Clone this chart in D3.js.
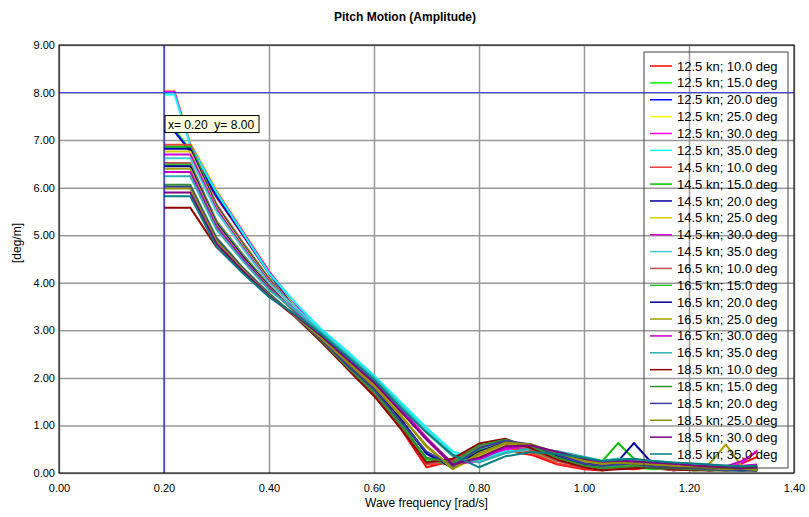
<!DOCTYPE html>
<html>
<head>
<meta charset="utf-8">
<script src="https://cdn.jsdelivr.net/npm/d3@7"></script>
<style>
	body { margin: 0; background: #fff; }
	text { font-family: Arial, "Liberation Sans", sans-serif; }
	.grid line { stroke: #999; stroke-width: 1.5; }
	.grid .domain { display: none; }
</style>
</head>
<body>
<div class="pitch-chart"></div>
<script>
// wave frequency [rad/s] shared by all series
const freq = [0.20, 0.22, 0.25, 0.30, 0.35, 0.40, 0.45, 0.50, 0.55, 0.60, 0.65, 0.70, 0.75, 0.80,
	0.85, 0.90, 0.95, 1.00, 1.035, 1.065, 1.095, 1.13, 1.17, 1.21, 1.24, 1.27, 1.30, 1.33];

const seriesNames = [
	"12.5 kn; 10.0 deg", "12.5 kn; 15.0 deg", "12.5 kn; 20.0 deg", "12.5 kn; 25.0 deg", "12.5 kn; 30.0 deg", "12.5 kn; 35.0 deg",
	"14.5 kn; 10.0 deg", "14.5 kn; 15.0 deg", "14.5 kn; 20.0 deg", "14.5 kn; 25.0 deg", "14.5 kn; 30.0 deg", "14.5 kn; 35.0 deg",
	"16.5 kn; 10.0 deg", "16.5 kn; 15.0 deg", "16.5 kn; 20.0 deg", "16.5 kn; 25.0 deg", "16.5 kn; 30.0 deg", "16.5 kn; 35.0 deg",
	"18.5 kn; 10.0 deg", "18.5 kn; 15.0 deg", "18.5 kn; 20.0 deg", "18.5 kn; 25.0 deg", "18.5 kn; 30.0 deg", "18.5 kn; 35.0 deg"
];

const seriesColors = [
	"#ff0000", "#00ff00", "#0000ff", "#ffff00", "#ff00ff", "#00ffff",
	"#f03c3c", "#00c000", "#0000a0", "#d0d000", "#d000d0", "#40d0d0",
	"#c05050", "#30c030", "#000090", "#a0a000", "#c000c0", "#30b0b0",
	"#900000", "#308f30", "#3c3ca0", "#909000", "#800080", "#008080"
];

// pitch amplitude [deg/m]
const amp_125_10 = [7.20, 7.20, 6.75, 5.80, 5.00, 4.20, 3.50, 2.80, 2.20, 1.65, 0.95, 0.12, 0.25, 0.42, 0.48, 0.38, 0.18, 0.08, 0.05, 0.10, 0.08, 0.12, 0.06, 0.08, 0.05, 0.10, 0.20, 0.34];
const amp_125_15 = [7.22, 7.22, 6.80, 5.85, 5.05, 4.22, 3.52, 2.83, 2.25, 1.72, 1.05, 0.25, 0.18, 0.45, 0.55, 0.45, 0.25, 0.12, 0.06, 0.15, 0.12, 0.08, 0.10, 0.05, 0.08, 0.06, 0.08, 0.10];
const amp_125_20 = [7.18, 7.18, 6.78, 5.82, 5.02, 4.20, 3.50, 2.85, 2.30, 1.80, 1.15, 0.40, 0.12, 0.40, 0.58, 0.50, 0.30, 0.15, 0.10, 0.18, 0.20, 0.12, 0.06, 0.10, 0.12, 0.08, 0.05, 0.08];
const amp_125_25 = [8.04, 8.04, 6.95, 5.95, 5.10, 4.25, 3.52, 2.88, 2.38, 1.88, 1.25, 0.55, 0.10, 0.32, 0.55, 0.52, 0.35, 0.20, 0.14, 0.18, 0.22, 0.16, 0.10, 0.12, 0.08, 0.10, 0.06, 0.05];
const amp_125_30 = [8.02, 8.02, 6.92, 5.92, 5.08, 4.24, 3.55, 2.93, 2.45, 1.97, 1.38, 0.75, 0.18, 0.25, 0.50, 0.52, 0.38, 0.25, 0.18, 0.22, 0.25, 0.18, 0.15, 0.10, 0.12, 0.10, 0.20, 0.48];
const amp_125_35 = [7.96, 7.96, 6.90, 5.90, 5.05, 4.20, 3.58, 3.02, 2.55, 2.05, 1.50, 0.95, 0.45, 0.30, 0.45, 0.52, 0.42, 0.30, 0.22, 0.28, 0.30, 0.22, 0.18, 0.15, 0.12, 0.15, 0.12, 0.10];

const amp_145_10 = [6.90, 6.90, 6.90, 5.65, 4.85, 4.10, 3.45, 2.80, 2.22, 1.68, 1.00, 0.18, 0.22, 0.45, 0.55, 0.42, 0.20, 0.10, 0.08, 0.12, 0.10, 0.14, 0.08, 0.06, 0.10, 0.08, 0.12, 0.15];
const amp_145_15 = [6.86, 6.86, 6.86, 5.62, 4.82, 4.08, 3.44, 2.82, 2.26, 1.74, 1.08, 0.30, 0.15, 0.48, 0.60, 0.50, 0.28, 0.15, 0.25, 0.63, 0.30, 0.15, 0.10, 0.12, 0.08, 0.06, 0.05, 0.08];
const amp_145_20 = [6.82, 6.82, 6.82, 5.60, 4.80, 4.06, 3.44, 2.84, 2.30, 1.80, 1.15, 0.42, 0.10, 0.42, 0.62, 0.55, 0.32, 0.18, 0.15, 0.25, 0.63, 0.20, 0.08, 0.10, 0.12, 0.08, 0.06, 0.05];
const amp_145_25 = [6.76, 6.76, 6.76, 5.58, 4.78, 4.05, 3.45, 2.87, 2.36, 1.86, 1.24, 0.55, 0.12, 0.35, 0.58, 0.55, 0.36, 0.22, 0.15, 0.20, 0.18, 0.22, 0.15, 0.10, 0.08, 0.10, 0.08, 0.06];
const amp_145_30 = [6.70, 6.70, 6.70, 5.55, 4.75, 4.03, 3.46, 2.92, 2.42, 1.94, 1.35, 0.72, 0.20, 0.28, 0.52, 0.55, 0.40, 0.26, 0.20, 0.24, 0.28, 0.20, 0.16, 0.14, 0.10, 0.12, 0.15, 0.18];
const amp_145_35 = [6.62, 6.62, 6.62, 5.50, 4.72, 4.00, 3.48, 2.98, 2.50, 2.02, 1.45, 0.90, 0.40, 0.25, 0.42, 0.50, 0.44, 0.32, 0.25, 0.30, 0.28, 0.25, 0.20, 0.16, 0.14, 0.12, 0.10, 0.12];

const amp_165_10 = [6.52, 6.52, 6.52, 5.30, 4.60, 3.95, 3.38, 2.78, 2.20, 1.66, 0.98, 0.20, 0.28, 0.55, 0.65, 0.48, 0.25, 0.12, 0.08, 0.10, 0.12, 0.10, 0.06, 0.08, 0.06, 0.05, 0.08, 0.10];
const amp_165_15 = [6.48, 6.48, 6.48, 5.28, 4.58, 3.93, 3.37, 2.80, 2.24, 1.72, 1.05, 0.30, 0.20, 0.52, 0.66, 0.55, 0.30, 0.15, 0.12, 0.15, 0.12, 0.10, 0.08, 0.10, 0.06, 0.08, 0.05, 0.06];
const amp_165_20 = [6.45, 6.45, 6.45, 5.25, 4.55, 3.92, 3.38, 2.83, 2.28, 1.78, 1.12, 0.42, 0.12, 0.45, 0.65, 0.58, 0.36, 0.20, 0.16, 0.20, 0.22, 0.15, 0.10, 0.08, 0.10, 0.06, 0.08, 0.05];
const amp_165_25 = [6.40, 6.40, 6.40, 5.22, 4.52, 3.90, 3.38, 2.86, 2.34, 1.84, 1.22, 0.55, 0.08, 0.38, 0.62, 0.58, 0.40, 0.25, 0.18, 0.20, 0.22, 0.18, 0.14, 0.12, 0.20, 0.60, 0.15, 0.10];
const amp_165_30 = [6.33, 6.33, 6.33, 5.18, 4.50, 3.88, 3.40, 2.90, 2.40, 1.92, 1.32, 0.70, 0.15, 0.30, 0.55, 0.58, 0.42, 0.28, 0.22, 0.25, 0.26, 0.22, 0.18, 0.15, 0.12, 0.14, 0.25, 0.45];
const amp_165_35 = [6.24, 6.24, 6.24, 5.12, 4.46, 3.85, 3.42, 2.95, 2.47, 2.00, 1.42, 0.85, 0.35, 0.22, 0.42, 0.52, 0.46, 0.34, 0.26, 0.30, 0.28, 0.26, 0.22, 0.18, 0.15, 0.14, 0.12, 0.14];

const amp_185_10 = [5.58, 5.58, 5.58, 4.75, 4.22, 3.72, 3.28, 2.75, 2.18, 1.62, 0.95, 0.22, 0.30, 0.62, 0.72, 0.52, 0.28, 0.12, 0.06, 0.08, 0.10, 0.12, 0.08, 0.06, 0.05, 0.08, 0.10, 0.12];
const amp_185_15 = [6.06, 6.06, 6.06, 4.95, 4.32, 3.78, 3.30, 2.78, 2.22, 1.70, 1.02, 0.32, 0.22, 0.58, 0.70, 0.56, 0.32, 0.16, 0.10, 0.12, 0.15, 0.12, 0.10, 0.08, 0.06, 0.05, 0.06, 0.08];
const amp_185_20 = [6.02, 6.02, 6.02, 4.92, 4.30, 3.76, 3.30, 2.80, 2.26, 1.76, 1.10, 0.45, 0.15, 0.52, 0.68, 0.60, 0.38, 0.20, 0.15, 0.18, 0.20, 0.14, 0.12, 0.10, 0.08, 0.06, 0.05, 0.06];
const amp_185_25 = [5.98, 5.98, 5.98, 4.88, 4.28, 3.74, 3.30, 2.83, 2.32, 1.82, 1.20, 0.58, 0.10, 0.42, 0.64, 0.60, 0.42, 0.26, 0.20, 0.22, 0.20, 0.18, 0.15, 0.12, 0.10, 0.08, 0.10, 0.06];
const amp_185_30 = [5.90, 5.90, 5.90, 4.82, 4.25, 3.72, 3.32, 2.88, 2.38, 1.90, 1.30, 0.72, 0.18, 0.32, 0.56, 0.58, 0.44, 0.30, 0.24, 0.26, 0.24, 0.22, 0.20, 0.16, 0.14, 0.12, 0.10, 0.12];
const amp_185_35 = [5.82, 5.82, 5.82, 4.76, 4.20, 3.70, 3.34, 2.92, 2.44, 1.96, 1.38, 0.85, 0.38, 0.12, 0.35, 0.44, 0.40, 0.32, 0.25, 0.28, 0.30, 0.25, 0.22, 0.20, 0.18, 0.16, 0.14, 0.15];

const seriesValues = [
	amp_125_10, amp_125_15, amp_125_20, amp_125_25, amp_125_30, amp_125_35,
	amp_145_10, amp_145_15, amp_145_20, amp_145_25, amp_145_30, amp_145_35,
	amp_165_10, amp_165_15, amp_165_20, amp_165_25, amp_165_30, amp_165_35,
	amp_185_10, amp_185_15, amp_185_20, amp_185_25, amp_185_30, amp_185_35
];

const xTicks = [0, 0.2, 0.4, 0.6, 0.8, 1.0, 1.2, 1.4];
const yTicks = [0, 1, 2, 3, 4, 5, 6, 7, 8, 9];

// cursor readout shown on the chart
const cursor = {x: 0.20, y: 8.00};

(function() {

	const margin = {top: 45, right: 15, bottom: 44, left: 59},
		width = 809 - margin.left - margin.right,
		height = 517 - margin.top - margin.bottom;

	const svg = d3.select(".pitch-chart").append("svg")
		.attr("width", 809)
		.attr("height", 517);

	svg.append("text")
		.attr("x", 405)
		.attr("y", 21)
		.style("text-anchor", "middle")
		.style("font-size", "12px")
		.style("font-weight", "bold")
		.text("Pitch Motion (Amplitude)");

	const g = svg.append("g")
		.attr("transform", "translate(" + margin.left + "," + margin.top + ")");

	const x = d3.scaleLinear()
		.domain([0, 1.4])
		.range([0, width]);

	const y = d3.scaleLinear()
		.domain([0, 9])
		.range([height, 0]);

	const xAxis = d3.axisBottom(x)
		.tickValues(xTicks)
		.tickFormat(d3.format(".2f"))
		.tickSize(-height)
		.tickPadding(11);

	const yAxis = d3.axisLeft(y)
		.tickValues(yTicks)
		.tickFormat(d3.format(".2f"))
		.tickSize(-width)
		.tickPadding(4);

	g.append("g")
		.attr("class", "x grid")
		.attr("transform", "translate(0," + height + ")")
		.call(xAxis)
		.selectAll("text")
		.style("font-size", "11px")
		.attr("fill", "#000");

	g.append("g")
		.attr("class", "y grid")
		.call(yAxis)
		.selectAll("text")
		.style("font-size", "11px")
		.attr("fill", "#000");

	g.append("defs").append("clipPath")
		.attr("id", "plot-clip")
		.append("rect")
		.attr("width", width)
		.attr("height", height);

	const line = d3.line()
		.x((d, i) => x(freq[i]))
		.y(d => y(d));

	g.append("g")
		.attr("clip-path", "url(#plot-clip)")
		.selectAll(".curve")
		.data(seriesValues)
		.enter().append("path")
		.attr("class", "curve")
		.attr("fill", "none")
		.attr("stroke", (d, i) => seriesColors[i])
		.attr("stroke-width", 2)
		.attr("stroke-linejoin", "round")
		.attr("d", line);

	// cursor cross
	g.append("line")
		.attr("x1", x(cursor.x)).attr("x2", x(cursor.x))
		.attr("y1", 0).attr("y2", height)
		.attr("stroke", "#0000ff");

	g.append("line")
		.attr("x1", 0).attr("x2", width)
		.attr("y1", y(cursor.y)).attr("y2", y(cursor.y))
		.attr("stroke", "#3c3cff");

	// frame
	g.append("rect")
		.attr("width", width)
		.attr("height", height)
		.attr("fill", "none")
		.attr("stroke", "#000");

	// legend
	const legendX = 585, legendY = 7, rowH = 16.87;

	g.append("rect")
		.attr("x", legendX)
		.attr("y", legendY)
		.attr("width", 144)
		.attr("height", 416)
		.attr("fill", "none")
		.attr("stroke", "#404040");

	const legendRow = g.selectAll(".legendRow")
		.data(seriesNames)
		.enter().append("g")
		.attr("class", "legendRow")
		.attr("transform", (d, i) => "translate(" + legendX + "," + (legendY + 14 + i * rowH) + ")");

	legendRow.append("line")
		.attr("x1", 6)
		.attr("x2", 28)
		.attr("stroke", (d, i) => seriesColors[i])
		.attr("stroke-width", 1.5);

	legendRow.append("text")
		.attr("x", 33)
		.attr("dy", ".35em")
		.style("font-size", "13px")
		.text(d => d);

	// axis titles
	svg.append("text")
		.attr("x", margin.left + width / 2)
		.attr("y", 507)
		.style("text-anchor", "middle")
		.style("font-size", "12px")
		.text("Wave frequency [rad/s]");

	svg.append("text")
		.attr("transform", "translate(21,243) rotate(-90)")
		.style("text-anchor", "middle")
		.style("font-size", "12px")
		.text("[deg/m]");

	// cursor readout box
	const tip = g.append("g")
		.attr("transform", "translate(" + (x(cursor.x) + 1) + "," + (y(cursor.y) + 23) + ")");

	tip.append("rect")
		.attr("width", 94)
		.attr("height", 17)
		.attr("fill", "#ffffe1")
		.attr("stroke", "#000");

	tip.append("text")
		.attr("x", 3)
		.attr("y", 13)
		.style("font-size", "12px")
		.style("white-space", "pre")
		.text("x= " + cursor.x.toFixed(2) + "  y= " + cursor.y.toFixed(2));

})();
</script>
</body>
</html>
